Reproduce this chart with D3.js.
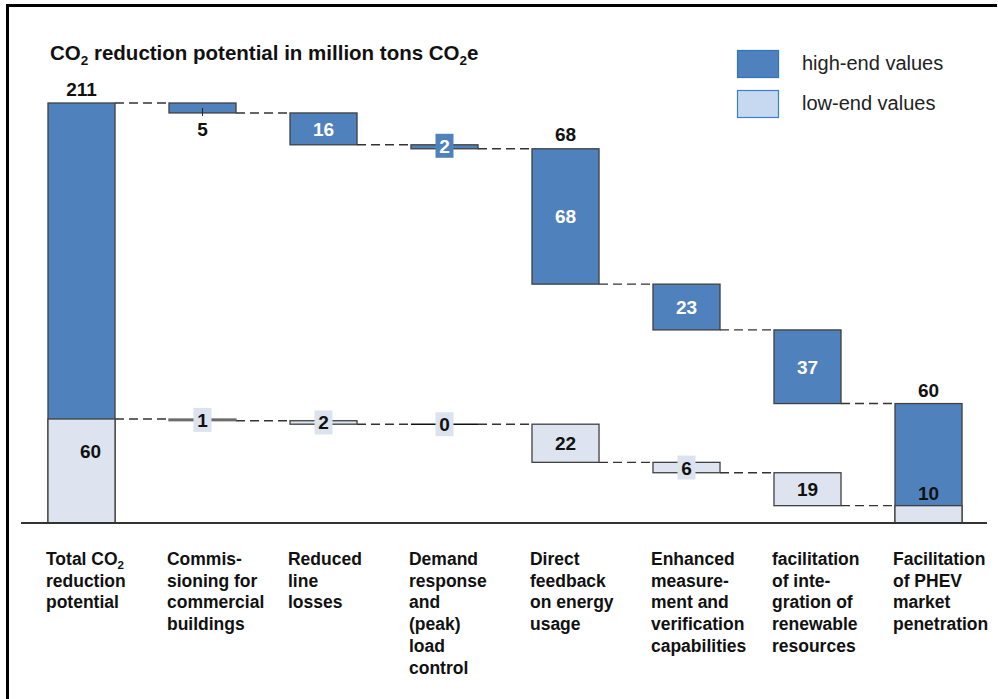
<!DOCTYPE html>
<html><head><meta charset="utf-8">
<script src="https://cdn.jsdelivr.net/npm/d3@7"></script>
<style>
body{margin:0;background:#fff;}
svg{display:block;font-family:"Liberation Sans",Arial,Helvetica,sans-serif;}
</style>
</head><body>
<svg id="chart" width="998" height="699"></svg>
<script>
// ---------- data ----------
const titleText = "CO₂ reduction potential in million tons CO₂e";
const categoryLines = [
  ["Total CO₂", "reduction", "potential"],
  ["Commis-", "sioning for", "commercial", "buildings"],
  ["Reduced", "line", "losses"],
  ["Demand", "response", "and", "(peak)", "load", "control"],
  ["Direct", "feedback", "on energy", "usage"],
  ["Enhanced", "measure-", "ment and", "verification", "capabilities"],
  ["facilitation", "of inte-", "gration of", "renewable", "resources"],
  ["Facilitation", "of PHEV", "market", "penetration"]
];
const highValues = [211, 5, 16, 2, 68, 23, 37, 60];
const lowValues  = [60, 1, 2, 0, 22, 6, 19, 10];
const seriesNames = ["high-end values", "low-end values"];

// label placement configuration (style, not data)
const highLabelMode = ["above", "below", "inside", "box", "inside", "inside", "inside", "above"];
const lowLabelMode  = ["totalInside", "box", "box", "box", "inside", "box", "inside", "aboveInside"];
const extraAboveLabel = [4]; // indices whose high-end value is also printed above the bar

// ---------- colours ----------
const BLUE = "#4f81bd", LIGHT = "#dde4ef", EDGE = "#404040", BOXLIGHT = "#dce3ee";

// ---------- helpers ----------
function waterfall(vals) {
  let run = 0;
  return vals.map((v, i) => {
    if (i === 0) { run = v; return {y0: 0, y1: v, total: true, v}; }
    if (i === vals.length - 1) return {y0: 0, y1: v, total: true, v};
    const top = run; run -= v;
    return {y0: run, y1: top, total: false, v};
  });
}
function addSubText(sel, str, subSize, shift) {
  const parts = str.split("₂");
  parts.forEach((p, k) => {
    if (k > 0) {
      sel.append("tspan").attr("font-size", subSize).attr("dy", shift).text("2");
      sel.append("tspan").attr("dy", -shift).text(p);
    } else sel.append("tspan").text(p);
  });
}

const svg = d3.select("#chart");
const baseline = 523;

const x = d3.scaleBand().domain(d3.range(categoryLines.length))
  .range([21, 989]).paddingInner(0.446).paddingOuter(0.223);
const bw = x.bandwidth();
const yHi = d3.scaleLinear().domain([0, d3.max(highValues)]).range([baseline, 103]);
const yLo = d3.scaleLinear().domain([0, d3.max(lowValues)]).range([baseline, 419]);

const hi = waterfall(highValues);
const lo = waterfall(lowValues);

// frame (left & top edges)
svg.append("path").attr("d", "M7.5,699 V5.5 H997").attr("fill", "none")
  .attr("stroke", "#000").attr("stroke-width", 3);

// title
const t = svg.append("text").attr("x", 50).attr("y", 60)
  .attr("font-size", 20.5).attr("font-weight", "bold").attr("fill", "#111");
addSubText(t, titleText, 13.5, 5);

// legend
const legColors = [[BLUE, "#2f73bf"], ["#c6d9f1", "#3a80c8"]];
seriesNames.forEach((n, k) => {
  const ly = 50 + k * 40;
  svg.append("rect").attr("x", 737.5).attr("y", ly + 0.5).attr("width", 41).attr("height", 27)
    .attr("fill", legColors[k][0]).attr("stroke", legColors[k][1]).attr("stroke-width", 1.2);
  svg.append("text").attr("x", 802).attr("y", ly + 19.5).attr("font-size", 20)
    .attr("fill", "#222").text(n);
});

// connectors
const conn = svg.append("g").attr("stroke", "#333").attr("stroke-width", 1.4)
  .attr("stroke-dasharray", "9,5").attr("fill", "none");
[[hi, yHi], [lo, yLo]].forEach(([ser, ys]) => {
  for (let i = 0; i < ser.length - 1; i++) {
    const lvl = ser[i].total ? ser[i].y1 : ser[i].y0;
    conn.append("line").attr("x1", x(i) + bw).attr("x2", x(i + 1))
      .attr("y1", ys(lvl)).attr("y2", ys(lvl));
  }
});

// high-end bars
svg.append("g").selectAll("rect").data(hi).join("rect")
  .attr("x", (d, i) => x(i)).attr("width", bw)
  .attr("y", d => yHi(d.y1)).attr("height", d => Math.max(0, yHi(d.y0) - yHi(d.y1)))
  .attr("fill", BLUE).attr("stroke", EDGE).attr("stroke-width", 1.3);

// low-end bars (non-zero)
svg.append("g").selectAll("rect").data(lo.filter(d => d.v !== 0)).join("rect")
  .attr("x", d => x(lo.indexOf(d))).attr("width", bw)
  .attr("y", d => yLo(d.y1)).attr("height", d => yLo(d.y0) - yLo(d.y1))
  .attr("fill", d => (d.y1 - d.y0) <= 1 ? "#6b6b6b" : LIGHT)
  .attr("stroke", d => (d.y1 - d.y0) <= 1 ? "#6b6b6b" : EDGE)
  .attr("stroke-width", 1.3);
// low-end zero-value bars drawn as a flat line
svg.append("g").selectAll("line").data(lo.filter(d => d.v === 0)).join("line")
  .attr("x1", d => x(lo.indexOf(d))).attr("x2", d => x(lo.indexOf(d)) + bw)
  .attr("y1", d => yLo(d.y0)).attr("y2", d => yLo(d.y0))
  .attr("stroke", "#111").attr("stroke-width", 1.5);

// baseline axis
svg.append("line").attr("x1", 21).attr("x2", 987).attr("y1", baseline).attr("y2", baseline)
  .attr("stroke", "#333").attr("stroke-width", 2);

// labels
const FS = 19;
const lab = svg.append("g").attr("font-size", FS).attr("font-weight", "bold")
  .attr("text-anchor", "middle");
function boxLabel(cx, cy, txt, bg, fg) {
  const w = 11 * String(txt).length + 7;
  lab.append("rect").attr("x", cx - w / 2).attr("y", cy - 12).attr("width", w).attr("height", 24)
    .attr("fill", bg);
  lab.append("text").attr("x", cx).attr("y", cy + 7).attr("fill", fg).text(txt);
}
hi.forEach((d, i) => {
  const cx = x(i) + bw / 2, top = yHi(d.y1), bot = yHi(d.y0), mid = (top + bot) / 2;
  const m = highLabelMode[i];
  if (m === "above") lab.append("text").attr("x", cx).attr("y", top - 7).attr("fill", "#111").text(d.v);
  else if (m === "inside") lab.append("text").attr("x", cx).attr("y", mid + 7).attr("fill", "#fff").text(d.v);
  else if (m === "below") {
    lab.append("line").attr("x1", cx).attr("x2", cx).attr("y1", mid).attr("y2", bot + 3)
      .attr("stroke", "#222").attr("stroke-width", 1);
    lab.append("text").attr("x", cx).attr("y", bot + 23).attr("fill", "#111").text(d.v);
  } else if (m === "box") boxLabel(cx, mid - 1, d.v, BLUE, "#fff");
  if (extraAboveLabel.includes(i))
    lab.append("text").attr("x", cx).attr("y", top - 8).attr("fill", "#111").text(d.v);
});
lo.forEach((d, i) => {
  const cx = x(i) + bw / 2, top = yLo(d.y1), bot = yLo(d.y0), mid = (top + bot) / 2;
  const m = lowLabelMode[i];
  if (m === "totalInside") lab.append("text").attr("x", cx + 9).attr("y", top + 39).attr("fill", "#111").text(d.v);
  else if (m === "inside") lab.append("text").attr("x", cx).attr("y", mid + 7).attr("fill", "#111").text(d.v);
  else if (m === "aboveInside") lab.append("text").attr("x", cx).attr("y", top - 6).attr("fill", "#111").text(d.v);
  else if (m === "box") boxLabel(cx, mid, d.v, BOXLIGHT, "#111");
});

// category labels
const cat = svg.append("g").attr("font-size", 17.5).attr("font-weight", "bold").attr("fill", "#111");
categoryLines.forEach((lines, i) => {
  lines.forEach((ln, k) => {
    const tx = cat.append("text").attr("x", x(i) - 2).attr("y", 565 + k * 21.7);
    addSubText(tx, ln, 11.5, 3.5);
  });
});
</script>
</body></html>
